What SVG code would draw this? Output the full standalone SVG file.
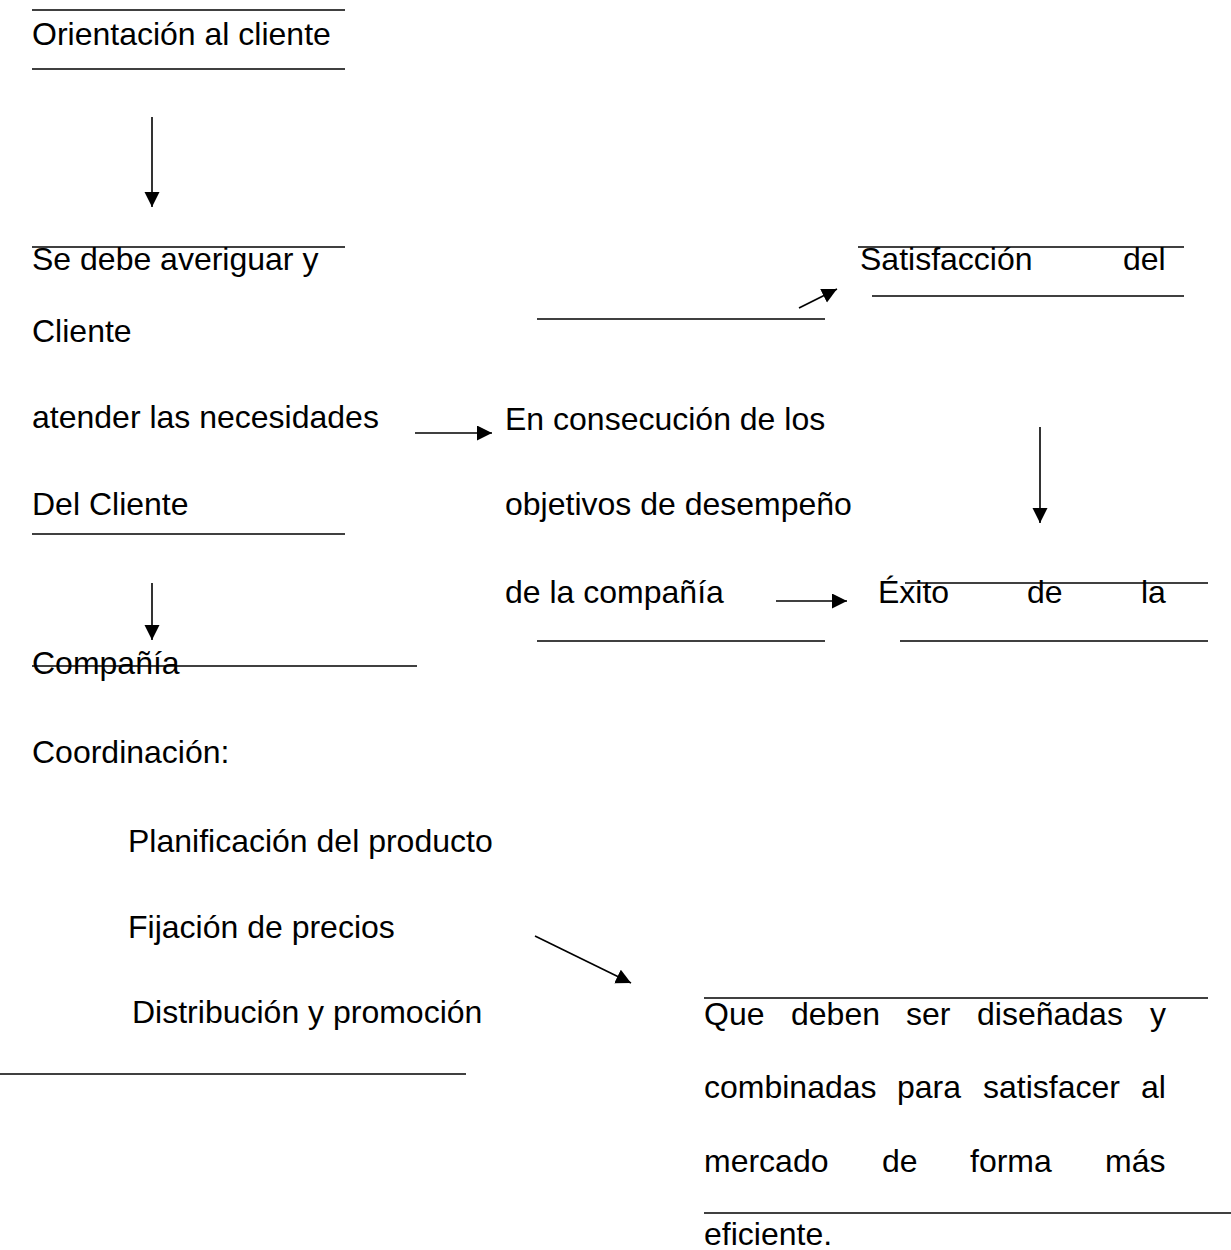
<svg xmlns="http://www.w3.org/2000/svg" width="1231" height="1250" viewBox="0 0 1231 1250">
<style>
text{font-family:"Liberation Sans",Arial,sans-serif;font-size:32px;fill:#000}
.rule{stroke:#000;stroke-width:1.6;fill:none}
.conn{stroke:#000;stroke-width:1.6;fill:none;marker-end:url(#ah)}
</style>
<defs>
<marker id="ah" markerUnits="userSpaceOnUse" markerWidth="16" markerHeight="16" viewBox="0 0 16 16" refX="15" refY="7.5" orient="auto">
<path d="M0,0 L15,7.5 L0,15 z" fill="#000"/>
</marker>
</defs>
<rect width="1231" height="1250" fill="#fff"/>

<g id="orientacion">
<line class="rule" x1="32" y1="10" x2="345" y2="10"/>
<text x="32" y="45">Orientación al cliente</text>
<line class="rule" x1="32" y1="69" x2="345" y2="69"/>
</g>

<g id="averiguar">
<line class="rule" x1="32" y1="247" x2="345" y2="247"/>
<text x="32" y="270">Se debe averiguar y</text>
<text x="32" y="342">Cliente</text>
<text x="32" y="428">atender las necesidades</text>
<text x="32" y="515">Del Cliente</text>
<line class="rule" x1="32" y1="534" x2="345" y2="534"/>
</g>

<g id="compania">
<text x="32" y="674">Compañía</text>
<line class="rule" x1="32" y1="666" x2="417" y2="666"/>
</g>

<g id="coordinacion">
<text x="32" y="763">Coordinación:</text>
<text x="128" y="852">Planificación del producto</text>
<text x="128" y="938">Fijación de precios</text>
<text x="132" y="1023">Distribución y promoción</text>
<line class="rule" x1="0" y1="1074" x2="466" y2="1074"/>
</g>

<g id="consecucion">
<line class="rule" x1="537" y1="319" x2="825" y2="319"/>
<text x="505" y="430">En consecución de los</text>
<text x="505" y="515">objetivos de desempeño</text>
<text x="505" y="603">de la compañía</text>
<line class="rule" x1="537" y1="641" x2="825" y2="641"/>
</g>

<g id="satisfaccion">
<line class="rule" x1="858" y1="247" x2="1184" y2="247"/>
<text y="270"><tspan x="860">Satisfacción</tspan><tspan x="1123">del</tspan></text>
<line class="rule" x1="872" y1="296" x2="1184" y2="296"/>
</g>

<g id="exito">
<line class="rule" x1="905" y1="583" x2="1208" y2="583"/>
<text y="603"><tspan x="878">Éxito</tspan><tspan x="1027">de</tspan><tspan x="1141">la</tspan></text>
<line class="rule" x1="900" y1="641" x2="1208" y2="641"/>
</g>

<g id="disenadas">
<line class="rule" x1="704" y1="998" x2="1208" y2="998"/>
<text y="1025"><tspan x="704">Que</tspan><tspan x="791">deben</tspan><tspan x="906">ser</tspan><tspan x="977">diseñadas</tspan><tspan x="1150">y</tspan></text>
<text y="1098"><tspan x="704">combinadas</tspan><tspan x="897">para</tspan><tspan x="983">satisfacer</tspan><tspan x="1141">al</tspan></text>
<text y="1172"><tspan x="704">mercado</tspan><tspan x="882">de</tspan><tspan x="970">forma</tspan><tspan x="1105">más</tspan></text>
<line class="rule" x1="704" y1="1213" x2="1231" y2="1213"/>
<text x="704" y="1245">eficiente.</text>
</g>

<g id="connectors">
<line class="conn" x1="152" y1="117" x2="152" y2="207"/>
<line class="conn" x1="152" y1="583" x2="152" y2="640"/>
<line class="conn" x1="415" y1="433" x2="492" y2="433"/>
<line class="conn" x1="799" y1="308" x2="837" y2="289"/>
<line class="conn" x1="1040" y1="427" x2="1040" y2="523"/>
<line class="conn" x1="776" y1="601" x2="847" y2="601"/>
<line class="conn" x1="535" y1="936" x2="631" y2="983"/>
</g>
</svg>
